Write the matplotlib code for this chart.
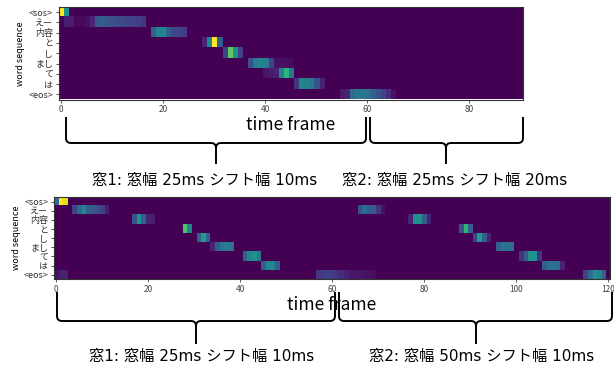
import numpy as np
import matplotlib
matplotlib.use("Agg")
import matplotlib.pyplot as plt
from matplotlib.path import Path
from matplotlib.patches import PathPatch

plt.rcParams["font.family"] = ["Noto Sans CJK JP", "DejaVu Sans"]

tokens = ["<sos>", "えー", "内容", "と", "し", "まし", "て", "は", "<eos>"]

# top: window 25ms / shift 10ms then shift 20ms, 91 frames
top_frames = 91
top_segments = [
    (0, 0, [1.0, 0.5]),
    (1, 1, [0.08, 0.08, 0.02, 0.02, 0.04, 0.1, 0.28, 0.3, 0.27, 0.25, 0.23, 0.22, 0.21, 0.2, 0.19, 0.16]),
    (2, 18, [0.3, 0.45, 0.45, 0.3, 0.22, 0.2, 0.18]),
    (3, 28, [0.1, 0.45, 1.0, 0.3]),
    (4, 32, [0.2, 0.75, 0.5, 0.2]),
    (5, 37, [0.25, 0.42, 0.45, 0.42, 0.2, 0.05, 0.05, 0.04, 0.03]),
    (6, 40, [0.06, 0.08, 0.1, 0.45, 0.65, 0.4]),
    (7, 46, [0.15, 0.45, 0.45, 0.4, 0.25, 0.1]),
    (8, 55, [0.08, 0.1, 0.35, 0.4, 0.4, 0.38, 0.3, 0.25, 0.2, 0.12, 0.05]),
]

# bottom: window 25ms then 50ms, shift 10ms, 121 frames
bottom_frames = 121
bottom_segments = [
    (0, 0, [0.35, 1.0, 0.95]),
    (1, 4, [0.2, 0.35, 0.45, 0.3, 0.28, 0.25, 0.2, 0.08]),
    (1, 66, [0.25, 0.35, 0.3, 0.28, 0.15, 0.05]),
    (2, 17, [0.25, 0.5, 0.3, 0.1, 0.08]),
    (2, 77, [0.1, 0.5, 0.5, 0.3, 0.1]),
    (3, 28, [0.72, 0.45]),
    (3, 88, [0.25, 0.65, 0.3]),
    (4, 31, [0.3, 0.55, 0.3]),
    (4, 91, [0.2, 0.55, 0.3, 0.1]),
    (5, 34, [0.1, 0.3, 0.4, 0.42, 0.38]),
    (5, 96, [0.3, 0.38, 0.38, 0.36]),
    (6, 41, [0.3, 0.45, 0.5, 0.4]),
    (6, 101, [0.15, 0.3, 0.5, 0.5, 0.15]),
    (7, 45, [0.3, 0.45, 0.45, 0.3]),
    (7, 106, [0.3, 0.38, 0.38, 0.36, 0.1]),
    (8, 0, [0.05, 0.1, 0.1]),
    (8, 57, [0.15, 0.18, 0.2, 0.18, 0.15, 0.12, 0.1, 0.07, 0.07, 0.06, 0.05, 0.05, 0.04]),
    (8, 115, [0.2, 0.35, 0.5, 0.45, 0.3]),
]

top_captions = ["窓1: 窓幅 25ms シフト幅 10ms", "窓2: 窓幅 25ms シフト幅 20ms"]
bottom_captions = ["窓1: 窓幅 25ms シフト幅 10ms", "窓2: 窓幅 50ms シフト幅 10ms"]


def build(frames, segments):
    grid = np.zeros((len(tokens), frames))
    for row, start, vals in segments:
        grid[row, start:start + len(vals)] = vals
    return grid


def heatmap(ax, grid, ticks):
    ax.imshow(grid, aspect="auto", interpolation="nearest", cmap="viridis", vmin=0, vmax=1)
    ax.set_yticks(range(len(tokens)), tokens, fontsize=6.5)
    ax.set_xticks(ticks)
    ax.tick_params(axis="x", labelsize=6, length=2.5, width=0.6, pad=1.5, colors="#444")
    ax.tick_params(axis="y", length=2.5, width=0.6, pad=1.5, colors="#333")
    ax.set_ylabel("word sequence", fontsize=6.5, labelpad=2)
    ax.set_xlabel("time frame", fontsize=12.5, labelpad=1.5)
    for sp in ax.spines.values():
        sp.set_linewidth(0.8)
        sp.set_color("#333")


def brace(ax, x0, x1, xt, ytop, ymid, ytip, r=5):
    verts = [
        (x0, ytop), (x0, ymid - r), (x0, ymid), (x0 + r, ymid),
        (xt - r, ymid), (xt, ymid), (xt, ymid + r), (xt, ytip),
    ]
    codes = [Path.MOVETO, Path.LINETO, Path.CURVE3, Path.CURVE3,
             Path.LINETO, Path.CURVE3, Path.CURVE3, Path.LINETO]
    verts2 = [
        (xt, ymid + r), (xt, ymid), (xt + r, ymid),
        (x1 - r, ymid), (x1, ymid), (x1, ymid - r), (x1, ytop),
    ]
    codes2 = [Path.MOVETO, Path.CURVE3, Path.CURVE3,
              Path.LINETO, Path.CURVE3, Path.CURVE3, Path.LINETO]
    for v, c in ((verts, codes), (verts2, codes2)):
        ax.add_patch(PathPatch(Path(v, c), fill=False, lw=1.4, color="black",
                               capstyle="butt", joinstyle="round"))


W, H = 614, 372
fig = plt.figure(figsize=(W / 100, H / 100), dpi=100)

ax1 = fig.add_axes([58.5 / W, 1 - 99.5 / H, (523 - 58.5) / W, 92.5 / H])
heatmap(ax1, build(top_frames, top_segments), [0, 20, 40, 60, 80])

ax2 = fig.add_axes([53.7 / W, 1 - 279.3 / H, (610.3 - 53.7) / W, 82.3 / H])
heatmap(ax2, build(bottom_frames, bottom_segments), [0, 20, 40, 60, 80, 100, 120])

over = fig.add_axes([0, 0, 1, 1], zorder=5)
over.set_xlim(0, W)
over.set_ylim(H, 0)
over.axis("off")
over.patch.set_alpha(0)

brace(over, 66, 366, 216, 117, 143, 164)
brace(over, 370, 523, 446, 117, 143, 164)
brace(over, 57, 335, 196, 292, 321, 344)
brace(over, 339, 612, 476, 292, 321, 344)

cap_font = ["DejaVu Sans", "Noto Sans CJK JP"]
for cx, txt in zip([205, 455], top_captions):
    over.text(cx, 180, txt, ha="center", va="center", fontsize=11, family=cap_font)
for cx, txt in zip([202, 482], bottom_captions):
    over.text(cx, 357, txt, ha="center", va="center", fontsize=11, family=cap_font)

fig.savefig("out.png", dpi=100)
